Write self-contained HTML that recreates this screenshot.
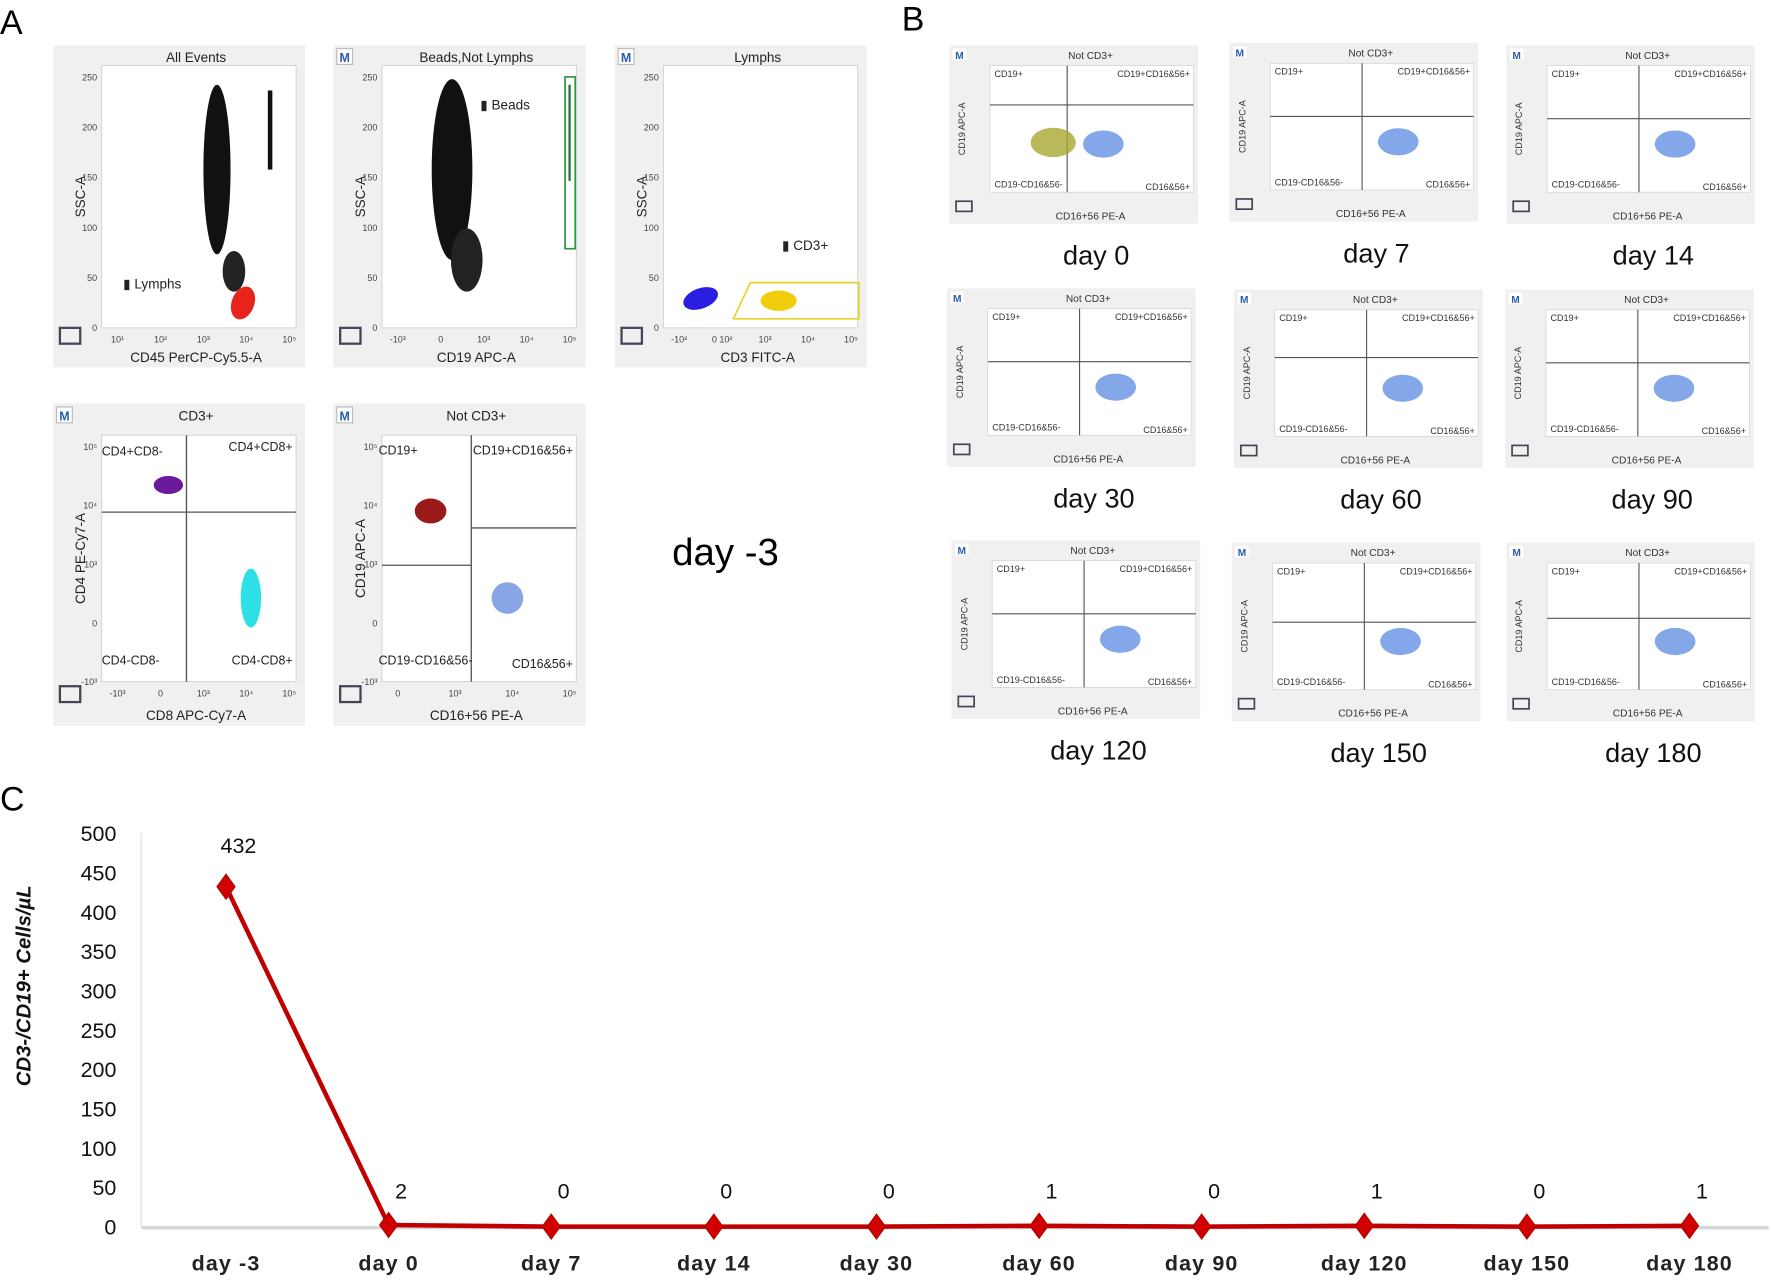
<!DOCTYPE html>
<html><head><meta charset="utf-8">
<style>
html,body{margin:0;padding:0;background:#fff;}
body{width:1772px;height:1282px;overflow:hidden;position:relative;font-family:"Liberation Sans",sans-serif;}
#wrap{position:absolute;left:0;top:0;width:1568px;height:1134px;transform:scale(1.13010,1.13051);transform-origin:0 0;}
svg text{font-family:"Liberation Sans",sans-serif;}
</style></head>
<body>
<div id="wrap">
<svg id="fig" width="1568" height="1134" viewBox="0 0 1568 1134" xmlns="http://www.w3.org/2000/svg">
  <text x="0" y="30" font-size="30">A</text>
  <text x="798" y="27" font-size="30">B</text>
  <text x="0" y="717" font-size="30">C</text>
  <text x="642" y="500" font-size="34" text-anchor="middle">day -3</text>
  <g id="flows"></g>
  <g id="chart"></g>
</svg>
</div>
<script>
// ---------- Chart data ----------
const categories = ["day -3","day 0","day 7","day 14","day 30","day 60","day 90","day 120","day 150","day 180"];
const values = [432,2,0,0,0,1,0,1,0,1];
const valueLabels = ["432","2","0","0","0","1","0","1","0","1"];
const yTicks = [0,50,100,150,200,250,300,350,400,450,500];

const NS="http://www.w3.org/2000/svg";
function el(tag,attrs,parent,txt){const e=document.createElementNS(NS,tag);for(const k in attrs)e.setAttribute(k,attrs[k]);if(txt!==undefined)e.textContent=txt;parent.appendChild(e);return e;}

// ---------- Line chart ----------
(function(){
  const g=document.getElementById('chart');
  const y0=1085,yTop=737,xL=125,xR=1565,yMax=500;
  const x0=200,step=(1495-200)/(categories.length-1);
  const xs=i=>x0+i*step;
  const ys=v=>y0-(v/yMax)*(y0-yTop);
  const ax=el('line',{x1:xL,y1:y0,x2:xL,y2:yTop,stroke:'#e6e6e6','stroke-width':1.5},g);
  
  const bx=el('line',{x1:xL,y1:y0+1,x2:xR,y2:y0+1,stroke:'#d6d6d6','stroke-width':3},g);
  
  yTicks.forEach(t=>{
    const tx=el('text',{x:103,y:ys(t)+7,'font-size':19,'text-anchor':'end',fill:'#111'},g,String(t));
    
  });
  const yt=el('text',{x:0,y:0,'font-size':18,'font-style':'italic','font-weight':'bold','text-anchor':'middle',transform:'translate(27,872) rotate(-90)',fill:'#111'},g,'CD3-/CD19+ Cells/µL');
  
  categories.forEach((c,i)=>{
    const tx=el('text',{x:xs(i),y:1124,'font-size':19,'font-weight':'bold','text-anchor':'middle','letter-spacing':'1',fill:'#222'},g,c);
    
  });
  const pts=values.map((v,i)=>xs(i)+','+ys(v)).join(' ');
  const pl=el('polyline',{points:pts,fill:'none',stroke:'#c00000','stroke-width':4,'stroke-linejoin':'round'},g);
  
  values.forEach((v,i)=>{
    const x=xs(i),y=ys(v);
    const d=el('polygon',{points:`${x},${y-11} ${x+8},${y} ${x},${y+11} ${x-8},${y}`,fill:'#d00000',stroke:'#b00000','stroke-width':1},g);
    
    const ly=i===0?y-30:1060;
    const lb=el('text',{x:i===0?x+11:x+11,y:ly,'font-size':19,'text-anchor':'middle',fill:'#111'},g,valueLabels[i]);
    
  });
})();

// ---------- Flow cytometry panels (decorative) ----------
const fg=document.getElementById('flows');
function flowA(x,y,o){
  const w=223,h=285;
  const g=el('g',{transform:`translate(${x},${y})`},fg);
  
  el('rect',{x:0,y:0,width:w,height:h,fill:'#f0f0f0'},g);
  const px=43,py=o.py||18,pw=172,ph=o.ph||232;
  el('rect',{x:px,y:py,width:pw,height:ph,fill:'#fff',stroke:'#cfcfcf','stroke-width':0.8},g);
  if(o.m){el('rect',{x:3,y:3,width:14,height:14,fill:'#fff',stroke:'#bbb'},g);el('text',{x:10,y:15,'font-size':11,'font-weight':'bold',fill:'#2a5db0','text-anchor':'middle'},g,'M');}
  el('text',{x:w/2+15,y:15,'font-size':12,'text-anchor':'middle',fill:'#222'},g,o.title);
  el('text',{x:w/2+15,y:h-5,'font-size':12,'text-anchor':'middle',fill:'#222'},g,o.xl);
  el('text',{x:0,y:0,'font-size':12,'text-anchor':'middle',fill:'#222',transform:`translate(28,${py+ph/2}) rotate(-90)`},g,o.yl);
  el('rect',{x:6,y:h-35,width:18,height:14,fill:'none',stroke:'#445','stroke-width':2},g);
  (o.yt||[]).forEach((t,i,a)=>el('text',{x:px-4,y:py+ph-(i/(a.length-1))*(ph-10)+3,'font-size':8,'text-anchor':'end',fill:'#444'},g,t));
  (o.xt||[]).forEach((t,i,a)=>el('text',{x:px+14+i*(pw-20)/(a.length-1),y:py+ph+13,'font-size':8,'text-anchor':'middle',fill:'#444'},g,t));
  (o.shapes||[]).forEach(s=>{const e=el(s[0],s[1],g);});
  (o.texts||[]).forEach(t=>el('text',{x:t[0],y:t[1],'font-size':t[3]||12,fill:'#222','text-anchor':t[4]||'start'},g,t[2]));
  return g;
}
const lt=['0','50','100','150','200','250'];
flowA(47,40,{name:'plot-all-events',title:'All Events',xl:'CD45 PerCP-Cy5.5-A',yl:'SSC-A',yt:lt,xt:['10¹','10²','10³','10⁴','10⁵'],
 shapes:[['ellipse',{cx:145,cy:110,rx:12,ry:75,fill:'#111'}],['ellipse',{cx:160,cy:200,rx:10,ry:18,fill:'#222'}],
 ['rect',{x:190,y:40,width:4,height:70,fill:'#111'}],['ellipse',{cx:168,cy:228,rx:10,ry:15,fill:'#e8231c',transform:'rotate(20 168 228)'}]],
 texts:[[62,215,'▮ Lymphs',12]]});
flowA(295,40,{name:'plot-beads-not-lymphs',m:1,title:'Beads,Not Lymphs',xl:'CD19 APC-A',yl:'SSC-A',yt:lt,xt:['-10³','0','10³','10⁴','10⁵'],
 shapes:[['ellipse',{cx:105,cy:110,rx:18,ry:80,fill:'#111'}],['ellipse',{cx:118,cy:190,rx:14,ry:28,fill:'#222'}],
 ['rect',{x:205,y:28,width:9,height:152,fill:'none',stroke:'#2a9a3a','stroke-width':1.5}],['line',{x1:209,y1:35,x2:209,y2:120,stroke:'#1a7a2a','stroke-width':2}]],
 texts:[[130,57,'▮ Beads',12]]});
flowA(544,40,{name:'plot-lymphs',m:1,title:'Lymphs',xl:'CD3 FITC-A',yl:'SSC-A',yt:lt,xt:['-10²','0 10²','10³','10⁴','10⁵'],
 shapes:[['ellipse',{cx:76,cy:224,rx:16,ry:9,fill:'#2a1fe0',transform:'rotate(-20 76 224)'}],
 ['polygon',{points:'105,242 120,210 216,210 216,242',fill:'none',stroke:'#e8d22a','stroke-width':1.5}],['ellipse',{cx:145,cy:226,rx:16,ry:9,fill:'#f2cd0c'}]],
 texts:[[148,181,'▮ CD3+',12]]});
flowA(47,357,{name:'plot-cd3-positive',m:1,title:'CD3+',xl:'CD8 APC-Cy7-A',yl:'CD4 PE-Cy7-A',py:28,ph:218,yt:['-10³','0','10³','10⁴','10⁵'],xt:['-10³','0','10³','10⁴','10⁵'],
 shapes:[['line',{x1:43,y1:96,x2:215,y2:96,stroke:'#555','stroke-width':1.2}],['line',{x1:118,y1:28,x2:118,y2:246,stroke:'#555','stroke-width':1.2}],
 ['ellipse',{cx:102,cy:72,rx:13,ry:8,fill:'#6a1a9a'}],['ellipse',{cx:175,cy:172,rx:9,ry:26,fill:'#2de0e8'}]],
 texts:[[43,46,'CD4+CD8-',11],[212,42,'CD4+CD8+',11,'end'],[43,231,'CD4-CD8-',11],[212,231,'CD4-CD8+',11,'end']]});
flowA(295,357,{name:'plot-not-cd3',m:1,title:'Not CD3+',xl:'CD16+56 PE-A',yl:'CD19 APC-A',py:28,ph:218,yt:['-10³','0','10³','10⁴','10⁵'],xt:['0','10³','10⁴','10⁵'],
 shapes:[['line',{x1:43,y1:143,x2:122,y2:143,stroke:':#555','stroke':'#555','stroke-width':1.2}],['line',{x1:122,y1:110,x2:215,y2:110,stroke:'#555','stroke-width':1.2}],['line',{x1:122,y1:28,x2:122,y2:246,stroke:'#555','stroke-width':1.2}],
 ['ellipse',{cx:86,cy:95,rx:14,ry:11,fill:'#9a1a1a'}],['ellipse',{cx:154,cy:172,rx:14,ry:14,fill:'#6a8ee0',opacity:0.8}]],
 texts:[[40,45,'CD19+',11],[212,45,'CD19+CD16&56+',11,'end'],[40,231,'CD19-CD16&56-',11],[212,234,'CD16&56+',11,'end']]});

// B panels
const bPanels=[
 [840,40,'day 0',0.45,0.37,1],[1088,38,'day 7',0.55,0.55,0],[1333,40,'day 14',0.55,0.55,0],
 [838,255,'day 30',0.55,0.55,0],[1092,256,'day 60',0.55,0.48,0],[1332,256,'day 90',0.55,0.55,0],
 [842,478,'day 120',0.55,0.55,0],[1090,480,'day 150',0.55,0.63,0],[1333,480,'day 180',0.55,0.58,0]];
bPanels.forEach(p=>{
  const [x,y,lab,vx,hy,yel]=p;const w=220,h=158;
  const g=el('g',{transform:`translate(${x},${y})`},fg);
  
  el('rect',{x:0,y:0,width:w,height:h,fill:'#f0f0f0'},g);
  const px=36,py=18,pw=180,ph=112;
  el('rect',{x:px,y:py,width:pw,height:ph,fill:'#fff',stroke:'#d0d0d0','stroke-width':0.6},g);
  el('rect',{x:3,y:3,width:12,height:10,fill:'#fff'},g);el('text',{x:9,y:12,'font-size':9,'font-weight':'bold',fill:'#2a5db0','text-anchor':'middle'},g,'M');
  el('text',{x:125,y:12,'font-size':9,'text-anchor':'middle',fill:'#333'},g,'Not CD3+');
  el('text',{x:125,y:154,'font-size':9,'text-anchor':'middle',fill:'#333'},g,'CD16+56 PE-A');
  el('text',{x:0,y:0,'font-size':8,'text-anchor':'middle',fill:'#333',transform:`translate(14,${py+ph/2}) rotate(-90)`},g,'CD19 APC-A');
  el('rect',{x:6,y:138,width:14,height:9,fill:'none',stroke:'#445','stroke-width':1.5},g);
  const lx=px+vx*pw*0.72+10, hyy=py+hy*ph*0.6+10;
  el('line',{x1:lx,y1:py,x2:lx,y2:py+ph,stroke:'#555','stroke-width':1},g);
  el('line',{x1:px,y1:hyy,x2:px+pw,y2:hyy,stroke:'#555','stroke-width':1},g);
  if(yel)el('ellipse',{cx:92,cy:86,rx:20,ry:13,fill:'#a8a830',opacity:0.8},g);
  el('ellipse',{cx:lx+32,cy:py+ph*0.62,rx:18,ry:12,fill:'#5a8ae0',opacity:0.75},g);
  el('text',{x:px+4,y:py+10,'font-size':8,fill:'#333'},g,'CD19+');
  el('text',{x:px+pw-3,y:py+10,'font-size':8,fill:'#333','text-anchor':'end'},g,'CD19+CD16&56+');
  el('text',{x:px+4,y:py+ph-4,'font-size':8,fill:'#333'},g,'CD19-CD16&56-');
  el('text',{x:px+pw-3,y:py+ph-2,'font-size':8,fill:'#333','text-anchor':'end'},g,'CD16&56+');
  const t=el('text',{x:x+w/2+20,y:y+h+36,'font-size':24,'text-anchor':'middle',fill:'#111'},fg,lab);
  
});
</script>
</body></html>
